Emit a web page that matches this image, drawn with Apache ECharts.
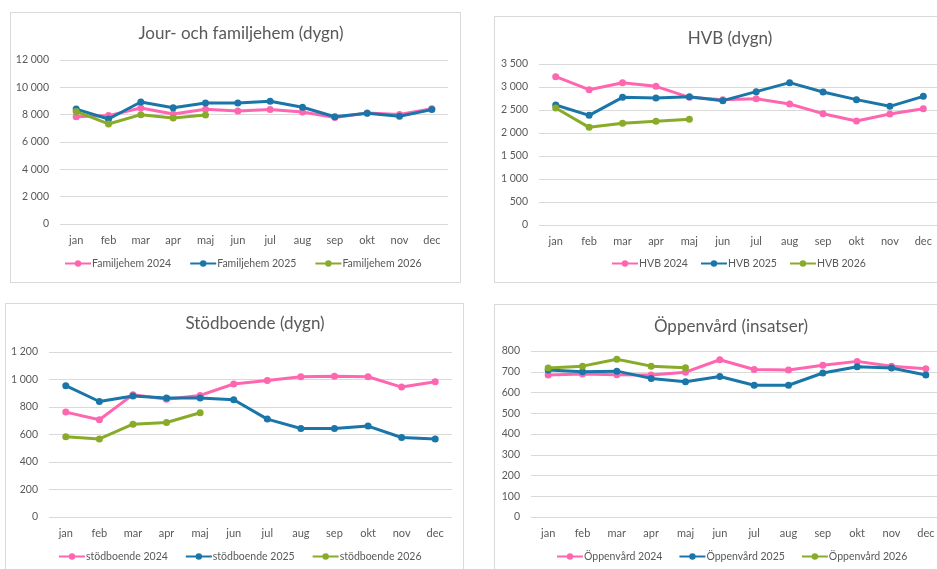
<!DOCTYPE html>
<html>
<head>
<meta charset="utf-8">
<script src="https://cdn.jsdelivr.net/npm/echarts@6/dist/echarts.min.js"></script>
<style>
	html, body { margin: 0; padding: 0; background: #fff; overflow: hidden; }
	body { width: 937px; height: 569px; position: relative; }
	.panel { position: absolute; border: 1px solid #d9d9d9; box-sizing: border-box; background: #fff; }
</style>
</head>
<body>
<div id="p1" class="panel" style="left:10px;top:12px;width:451px;height:271px;"></div>
<div id="p2" class="panel" style="left:494px;top:16px;width:470px;height:267px;"></div>
<div id="p3" class="panel" style="left:5px;top:303px;width:459px;height:290px;"></div>
<div id="p4" class="panel" style="left:494px;top:304px;width:470px;height:290px;"></div>
<script>
var months = ['jan', 'feb', 'mar', 'apr', 'maj', 'jun', 'jul', 'aug', 'sep', 'okt', 'nov', 'dec'];

// Jour- och familjehem (dygn)
var familjehem2024 = [7850, 7930, 8490, 8050, 8390, 8270, 8370, 8200, 7800, 8120, 8020, 8440];
var familjehem2025 = [8410, 7680, 8930, 8510, 8850, 8850, 8980, 8540, 7850, 8100, 7880, 8370];
var familjehem2026 = [8240, 7320, 8000, 7760, 7980];

// HVB (dygn)
var hvb2024 = [3225, 2942, 3094, 3014, 2775, 2725, 2746, 2630, 2420, 2261, 2413, 2529];
var hvb2025 = [2609, 2384, 2775, 2761, 2790, 2703, 2899, 3094, 2891, 2725, 2580, 2797];
var hvb2026 = [2543, 2123, 2210, 2254, 2297];

// Stödboende (dygn)
var stod2024 = [763, 707, 890, 857, 884, 967, 993, 1020, 1023, 1020, 945, 984];
var stod2025 = [955, 840, 880, 865, 865, 853, 712, 644, 644, 661, 578, 568];
var stod2026 = [583, 568, 675, 687, 758];

// Öppenvård (insatser)
var oppen2024 = [684, 689, 686, 684, 698, 758, 711, 708, 731, 750, 727, 715];
var oppen2025 = [708, 700, 703, 668, 652, 677, 635, 635, 694, 724, 718, 684];
var oppen2026 = [718, 727, 760, 727, 719];

var colors = ['#ff66b0', '#1a76a8', '#89ab2a'];
var font = 'Lato, "Open Sans", sans-serif';

function fmt(v) {
	return String(v).replace(/\B(?=(\d{3})+(?!\d))/g, ' ');
}

function initPanel(opt) {
	var series = [];
	for (var i = 0; i < opt.names.length; i++) {
		series.push({
			name: opt.names[i],
			type: 'line',
			data: opt.datas[i],
			symbol: 'circle',
			symbolSize: 7,
			lineStyle: { width: 3, color: colors[i] },
			itemStyle: { color: colors[i] },
			z: 2 + i
		});
	}
	var chart = echarts.init(document.getElementById(opt.id));
	chart.setOption({
		animation: false,
		color: colors,
		title: {
			text: opt.title,
			left: opt.titleX,
			top: opt.titleY,
			textAlign: 'center',
			textStyle: { fontFamily: font, fontSize: 17, fontWeight: 'normal', color: '#595959' }
		},
		legend: {
			data: opt.names,
			left: opt.legendX,
			top: opt.legendY,
			itemWidth: 26,
			itemHeight: 8,
			itemGap: opt.legendGap,
			textStyle: { fontFamily: font, fontSize: 10.5, color: '#595959', padding: [0, 0, 0, -4] }
		},
		grid: {
			left: opt.grid[0],
			top: opt.grid[1],
			width: opt.grid[2],
			height: opt.grid[3]
		},
		xAxis: [{
			type: 'category',
			data: months,
			boundaryGap: true,
			axisLine: { show: false },
			axisTick: { show: false },
			axisLabel: { fontFamily: font, fontSize: 11, color: '#595959', margin: 11 }
		}],
		yAxis: [{
			type: 'value',
			min: 0,
			max: opt.max,
			interval: opt.interval,
			axisLine: { show: false },
			axisTick: { show: false },
			axisLabel: { fontFamily: font, fontSize: 10.5, color: '#595959', margin: 11, formatter: fmt },
			splitLine: { show: true, lineStyle: { color: '#d9d9d9', width: 1 } }
		}],
		series: series
	});
	return chart;
}

initPanel({
	id: 'p1', title: 'Jour- och familjehem (dygn)', titleX: 225, titleY: 7,
	names: ['Familjehem 2024', 'Familjehem 2025', 'Familjehem 2026'],
	datas: [familjehem2024, familjehem2025, familjehem2026],
	max: 12000, interval: 2000,
	legendX: 48, legendY: 240, legendGap: 18,
	grid: [49, 47, 388, 164]
});
initPanel({
	id: 'p2', title: 'HVB (dygn)', titleX: 230, titleY: 8,
	names: ['HVB 2024', 'HVB 2025', 'HVB 2026'],
	datas: [hvb2024, hvb2025, hvb2026],
	max: 3500, interval: 500,
	legendX: 111, legendY: 236, legendGap: 12,
	grid: [44, 47, 401, 161]
});
initPanel({
	id: 'p3', title: 'Stödboende (dygn)', titleX: 244, titleY: 6,
	names: ['stödboende 2024', 'stödboende 2025', 'stödboende 2026'],
	datas: [stod2024, stod2025, stod2026],
	max: 1200, interval: 200,
	legendX: 47, legendY: 242, legendGap: 17,
	grid: [43, 48, 403, 165]
});
initPanel({
	id: 'p4', title: 'Öppenvård (insatser)', titleX: 231, titleY: 8,
	names: ['Öppenvård 2024', 'Öppenvård 2025', 'Öppenvård 2026'],
	datas: [oppen2024, oppen2025, oppen2026],
	max: 800, interval: 100,
	legendX: 56, legendY: 241, legendGap: 16,
	grid: [36, 46, 412, 166]
});
</script>
</body>
</html>
